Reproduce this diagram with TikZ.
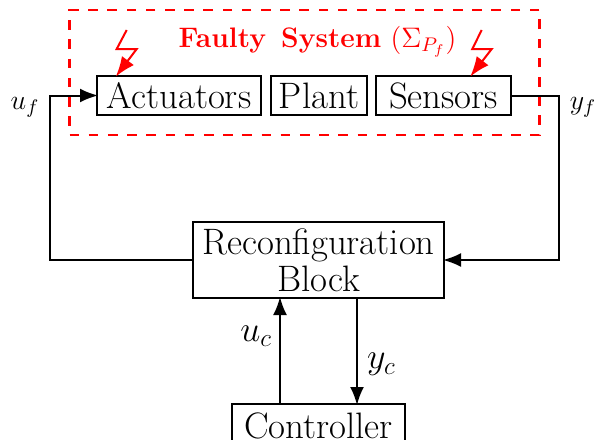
\documentclass[tikz,border=0pt]{standalone}
\usepackage{fix-cm}
\usepackage{amsmath,amssymb}
\usetikzlibrary{positioning, arrows.meta}

\tikzset{
	block/.style={draw, line width=1pt, inner sep=0pt, align=center, font=\fontsize{18.4}{18.5}\selectfont},
	sig/.style={font=\fontsize{14}{15}\selectfont, inner sep=2pt},
	sigc/.style={font=\fontsize{18}{20}\selectfont, inner sep=2pt},
	link/.style={line width=1pt, shorten >=-1pt, -{Latex[length=9pt,width=7pt]}},
	fault/.style={red, line width=1pt, shorten >=-1pt, -{Latex[length=10pt,width=7.5pt]}}
}

\begin{document}
\begin{tikzpicture}
	[x=.5pt, y=-.5pt]
   \useasboundingbox (0,0) rectangle (594,439);

   \node[draw=red, line width=1.4pt, dash pattern=on 4.8pt off 4.8pt, minimum width=235pt, minimum height=62.5pt] (faulty) at (304.5,72.5) {};
   \node[red, font=\fontsize{14.1}{16}\selectfont, inner sep=0pt] (title) at (317.5,42) {\textbf{Faulty\, System} $(\Sigma_{P_f})$};

   \node[block, minimum width=82pt, minimum height=19.5pt] (actuators) at (179,95.5) {Actuators};
   \node[block, minimum width=48pt, minimum height=19.5pt] (plant) [right=4pt of actuators] {Plant};
   \node[block, minimum width=67.5pt, minimum height=19.5pt] (sensors) [right=3.5pt of plant] {Sensors};
   \node[block, minimum width=125.5pt, minimum height=38pt] (reconfig) at (318.5,260) {Reconfiguration\\Block};
   \node[block, minimum width=86.5pt, minimum height=21.5pt] (controller) [below=52pt of reconfig] {Controller};

   \coordinate (left_bus) at (49.5,260);
   \coordinate (right_bus) at (559,260);
   \coordinate (bolt_a1) at (126.7,30);
   \coordinate (bolt_a2) at (116.7,49);
   \coordinate (bolt_a3) at (136.7,49);
   \coordinate (bolt_s1) at (481.7,30);
   \coordinate (bolt_s2) at (472.3,49);
   \coordinate (bolt_s3) at (491.7,49);

   \node[sig] (u_f) at (25,107) {$u_f$};
   \node[sig] (y_f) at (583,107) {$y_f$};

   \draw[link] (reconfig.west) -- (left_bus) |- (actuators.west);
   \draw[link] (sensors.east) -| (right_bus) -- (reconfig.east);
   \draw[link] ([xshift=-19.25pt]controller.north) -- node[sigc, left=1.5pt, pos=.64] (u_c) {$u_c$} ([xshift=-19.25pt]reconfig.south);
   \draw[link] ([xshift=19.25pt]reconfig.south) -- node[sigc, right=2.5pt, pos=.63] (y_c) {$y_c$} ([xshift=19.25pt]controller.north);

   \draw[fault] (bolt_a1) -- (bolt_a2) -- (bolt_a3) -- ([xshift=-31pt]actuators.north);
   \draw[fault] (bolt_s1) -- (bolt_s2) -- (bolt_s3) -- ([xshift=14pt]sensors.north);
\end{tikzpicture}
\end{document}
